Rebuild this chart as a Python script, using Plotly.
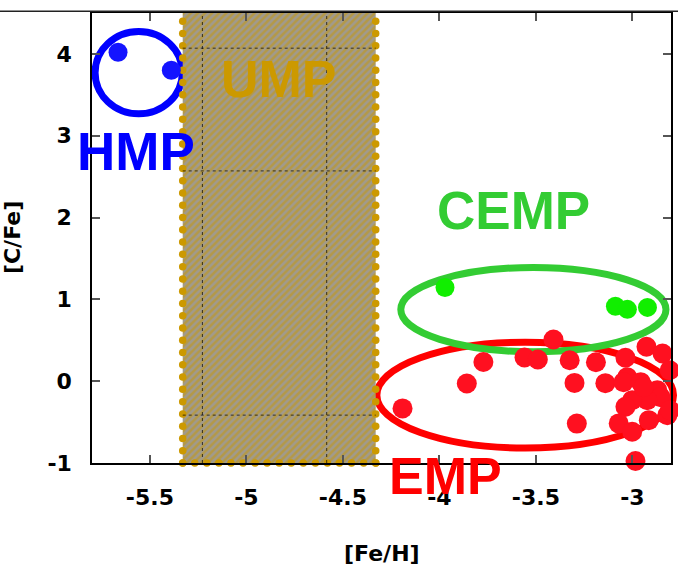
import numpy as np
import plotly.graph_objects as go

# ---------------- data ----------------
X_RANGE = [-5.8, -2.8]
Y_RANGE = [-1.0, 4.5]
x_tickvals = [-5.5, -5.0, -4.5, -4.0, -3.5, -3.0]
x_ticktext = ["-5.5", "-5", "-4.5", "-4", "-3.5", "-3"]
y_tickvals = [-1, 0, 1, 2, 3, 4]
y_ticktext = ["-1", "0", "1", "2", "3", "4"]

hmp_feh = [-5.665, -5.389]
hmp_cfe = [4.02, 3.80]

cemp_feh = [-3.971, -3.088, -3.026, -2.922]
cemp_cfe = [1.146, 0.915, 0.878, 0.902]

emp_feh = [-4.191, -3.858, -3.772, -3.559, -3.490, -3.409, -3.325, -3.300, -3.288,
           -3.189, -3.140, -3.036, -3.027, -3.046, -2.927, -2.844, -2.807, -2.957,
           -2.871, -2.854, -2.923, -3.001, -3.036, -2.819, -2.915, -3.071, -3.001,
           -2.984, -2.942, -2.806]
emp_cfe = [-0.333, -0.028, 0.235, 0.289, 0.265, 0.509, 0.256, -0.021, -0.518,
           0.232, -0.024, 0.287, 0.049, -0.012, 0.421, 0.338, 0.134, -0.012,
           -0.110, -0.195, -0.232, -0.232, -0.313, -0.415, -0.476, -0.516, -0.618,
           -0.976, -0.073, -0.354]

# UMP band (x0, x1, y0, y1)
ump_box = [-5.33, -4.33, -1.0, 4.55]
ump_grid_x = [-5.228, -4.584]
ump_grid_y = [4.07, 2.57, -0.415]

# group ellipses (x0, x1, y0, y1)
hmp_ell = [-5.784, -5.332, 3.268, 4.274]
cemp_ell = [-4.200, -2.826, 0.360, 1.390]
emp_ell = [-4.324, -2.787, -0.817, 0.476]

# ---------------- colours ----------------
BLUE = "#0000ff"
GREEN_LINE = "#33cc33"
GREEN_PT = "#11ee00"
RED = "#ff0000"
RED_PT = "#ff1020"
GOLD = "#cc9900"

fig = go.Figure()

# UMP hatched band
bx0, bx1, by0, by1 = ump_box
fig.add_trace(go.Scatter(
    x=[bx0, bx1, bx1, bx0, bx0], y=[by0, by0, by1, by1, by0],
    mode="lines", fill="toself", line=dict(width=0, color=GOLD),
    fillcolor="rgba(0,0,0,0)",
    fillpattern=dict(shape="/", fgcolor="#c89800", bgcolor="#a09a8e",
                     size=5, solidity=0.5),
    hoverinfo="skip", showlegend=False))

# dotted border of the UMP band
nx, ny = 17, 38
top_x = np.linspace(bx0, bx1, nx)
side_y = np.linspace(by0, by1, ny)
border_x = np.concatenate([top_x, top_x, np.full(ny, bx0), np.full(ny, bx1)])
border_y = np.concatenate([np.full(nx, by0), np.full(nx, by1), side_y, side_y])
fig.add_trace(go.Scatter(
    x=border_x, y=border_y, mode="markers",
    marker=dict(size=7.5, color=GOLD, line=dict(width=0)),
    cliponaxis=False, hoverinfo="skip", showlegend=False))

# points
fig.add_trace(go.Scatter(x=hmp_feh, y=hmp_cfe, mode="markers",
                         marker=dict(size=19, color="#1414ff", line=dict(width=0)),
                         showlegend=False))
fig.add_trace(go.Scatter(x=cemp_feh, y=cemp_cfe, mode="markers",
                         marker=dict(size=19, color=GREEN_PT, line=dict(width=0)),
                         showlegend=False))
fig.add_trace(go.Scatter(x=emp_feh, y=emp_cfe, mode="markers",
                         marker=dict(size=20, color=RED_PT, line=dict(width=0)),
                         cliponaxis=False, showlegend=False))


def to_paper_x(v):
    return (v - X_RANGE[0]) / (X_RANGE[1] - X_RANGE[0])


def to_paper_y(v):
    return (v - Y_RANGE[0]) / (Y_RANGE[1] - Y_RANGE[0])


shapes = []
# faint dashed lines inside UMP band
for gx in ump_grid_x:
    shapes.append(dict(type="line", xref="x", yref="y", x0=gx, x1=gx, y0=by0, y1=Y_RANGE[1],
                       line=dict(color="rgba(0,0,0,0.7)", width=1, dash="dot")))
for gy in ump_grid_y:
    shapes.append(dict(type="line", xref="x", yref="y", x0=bx0, x1=bx1, y0=gy, y1=gy,
                       line=dict(color="rgba(0,0,0,0.7)", width=1, dash="dot")))

shapes.append(dict(type="circle", xref="x", yref="y", layer="below",
                   x0=hmp_ell[0], x1=hmp_ell[1], y0=hmp_ell[2], y1=hmp_ell[3],
                   line=dict(color=BLUE, width=7)))
shapes.append(dict(type="circle", xref="x", yref="y", layer="below",
                   x0=cemp_ell[0], x1=cemp_ell[1], y0=cemp_ell[2], y1=cemp_ell[3],
                   line=dict(color=GREEN_LINE, width=7)))
shapes.append(dict(type="circle", xref="paper", yref="paper", layer="below",
                   x0=to_paper_x(emp_ell[0]), x1=to_paper_x(emp_ell[1]),
                   y0=to_paper_y(emp_ell[2]), y1=to_paper_y(emp_ell[3]),
                   line=dict(color=RED, width=7)))
# long top rule
shapes.append(dict(type="line", xref="paper", yref="paper", x0=-0.17, x1=1.02,
                   y0=1.004, y1=1.004, line=dict(color="#222", width=1.5)))

LABEL_FONT = "Liberation Sans, Arial, sans-serif"
annotations = [
    dict(x=-5.571, y=2.805, xref="x", yref="y", text="HMP", showarrow=False,
         font=dict(family=LABEL_FONT, size=53, color=BLUE, weight="bold")),
    dict(x=-4.833, y=3.695, xref="x", yref="y", text="UMP", showarrow=False,
         font=dict(family=LABEL_FONT, size=52, color=GOLD, weight="bold")),
    dict(x=-3.618, y=2.085, xref="x", yref="y", text="CEMP", showarrow=False,
         font=dict(family=LABEL_FONT, size=53, color=GREEN_LINE, weight="bold")),
    dict(x=-3.966, y=-0.029, xref="x", yref="paper", text="EMP", showarrow=False,
         font=dict(family=LABEL_FONT, size=52, color=RED, weight="bold")),
    dict(x=0.5, y=-0.2, xref="paper", yref="paper", text="[Fe/H]", showarrow=False,
         font=dict(family="DejaVu Sans", size=22, color="black", weight="bold")),
    dict(x=-0.138, y=0.5, xref="paper", yref="paper", text="[C/Fe]", showarrow=False,
         textangle=-90,
         font=dict(family="DejaVu Sans", size=22, color="black", weight="bold")),
]
for a in annotations:
    a["xanchor"] = "center"
    a["yanchor"] = "middle"

fig.update_layout(
    width=678, height=567,
    margin=dict(l=92, r=7, t=13, b=104, autoexpand=False),
    paper_bgcolor="white", plot_bgcolor="rgba(0,0,0,0)",
    shapes=shapes, annotations=annotations,
    xaxis=dict(range=X_RANGE, tickvals=x_tickvals, ticktext=x_ticktext,
               ticks="inside", ticklen=8, tickcolor="#555", tickwidth=1.5,
               showline=True, linecolor="black", linewidth=1.5, mirror="ticks",
               showgrid=False, zeroline=False, ticklabelstandoff=14, automargin=False,
               tickfont=dict(family="DejaVu Sans", size=22, color="black", weight="bold")),
    yaxis=dict(range=Y_RANGE, tickvals=y_tickvals, ticktext=y_ticktext,
               ticks="inside", ticklen=8, tickcolor="#555", tickwidth=1.5,
               showline=True, linecolor="black", linewidth=1.5, mirror="ticks",
               showgrid=False, zeroline=False, ticklabelstandoff=14, automargin=False,
               tickfont=dict(family="DejaVu Sans", size=22, color="black", weight="bold")),
)

fig.write_html("out.html", config={"displayModeBar": False},
               post_script="document.body.style.margin='0';document.body.style.padding='0';")
